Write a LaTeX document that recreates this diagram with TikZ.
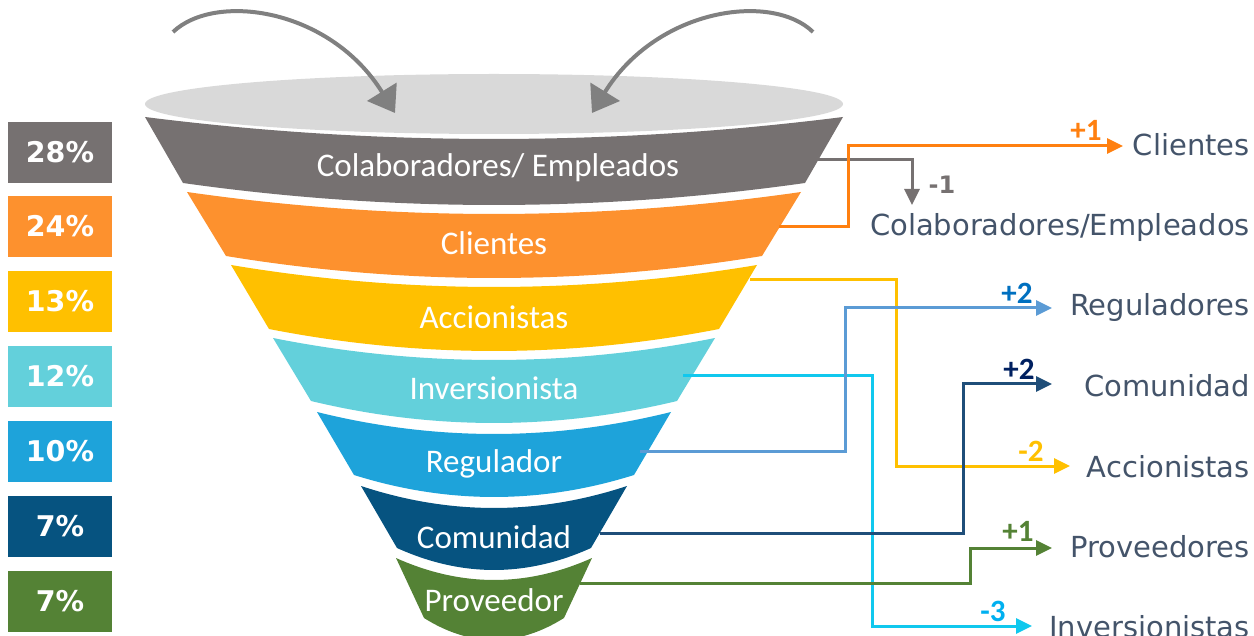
\documentclass[tikz,border=0pt]{standalone}
\usepackage{fontspec}
\setmainfont{DejaVu Sans}
\newfontfamily\bandfont{Carlito}
\usetikzlibrary{arrows.meta}
\definecolor{cgray}{HTML}{767171}
\definecolor{corange}{HTML}{FD912E}
\definecolor{cyellow}{HTML}{FFC000}
\definecolor{ccyan}{HTML}{63D0DB}
\definecolor{cblue}{HTML}{1EA3DA}
\definecolor{cnavy}{HTML}{065380}
\definecolor{cgreen}{HTML}{548235}
\definecolor{ctop}{HTML}{D9D9D9}
\definecolor{carrow}{HTML}{808080}
\definecolor{ctext}{HTML}{44546A}
\definecolor{lorange}{HTML}{FF8010}
\definecolor{lcyan}{HTML}{10C8EE}
\definecolor{lblue}{HTML}{5B9BD5}
\definecolor{lnavy}{HTML}{1F4E79}
\definecolor{dblue}{HTML}{0070C0}
\definecolor{dnavy}{HTML}{002060}
\definecolor{dcyan}{HTML}{00B0F0}

\begin{document}
\begin{tikzpicture}
[x=1pt, y=-1pt, every node/.style={inner sep=0pt},
 pct/.style={minimum width=104pt, minimum height=61pt, text=white, font=\fontsize{28.5}{32}\selectfont\bfseries},
 bandlabel/.style={text=white, font=\bandfont\fontsize{33}{38}\selectfont},
 target/.style={anchor=base east, text=ctext, font=\fontsize{29}{34}\selectfont},
 delta/.style={font=\bandfont\fontsize{31}{34}\selectfont\bfseries},
 link/.style={line width=3pt, -{Triangle[length=16pt,width=15pt]}},
 swoop/.style={line width=4pt, draw=carrow, -{Triangle[length=25pt,width=34pt]}}]
\useasboundingbox (0,0) rectangle (1254,636);

% mouth of the funnel
\fill [ctop] (494,104) ellipse [x radius=349pt, y radius=30pt];
\coordinate (inL) at (395,113);
\coordinate (inR) at (592,113);
\draw [swoop] (173,32) .. controls (215,-8) and (330,8) .. (inL);
\draw [swoop] (813,32) .. controls (772,-8) and (657,8) .. (inR);

% bands
\fill [cgray] (145,117) .. controls (377.7,146.3) and (610.3,146.3) .. (843,117) -- (805,183) .. controls (597.7,212.3) and (390.3,212.3) .. (183,183) -- cycle;
\fill [corange] (187,192) .. controls (391.7,221.3) and (596.3,221.3) .. (801,192) -- (762,256) .. controls (583.3,285.3) and (404.7,285.3) .. (226,256) -- cycle;
\fill [cyellow] (231,265) .. controls (406.3,294.3) and (581.7,294.3) .. (757,265) -- (719,329) .. controls (569,358.3) and (419,358.3) .. (269,329) -- cycle;
\fill [ccyan] (273,338) .. controls (420.3,367.3) and (567.7,367.3) .. (715,338) -- (677,401) .. controls (555,430.3) and (433,430.3) .. (311,401) -- cycle;
\fill [cblue] (317,412) .. controls (435,441.3) and (553,441.3) .. (671,412) -- (634,475) .. controls (540.7,504.3) and (447.3,504.3) .. (354,475) -- cycle;
\fill [cnavy] (361,486) .. controls (449.7,515.3) and (538.3,515.3) .. (627,486) -- (591,548) .. controls (526.3,577.3) and (461.7,577.3) .. (397,548) -- cycle;
\fill [cgreen] (396,558) .. controls (461.3,587.3) and (526.7,587.3) .. (592,558) -- (564,618) .. controls (517.3,647.3) and (470.7,647.3) .. (424,618) -- cycle;

\node (colab) [bandlabel] at (498,168) {Colaboradores/ Empleados};
\node (clientes) [bandlabel] at (494,243) {Clientes};
\node (accion) [bandlabel] at (494,317) {Accionistas};
\node (invers) [bandlabel] at (494,388) {Inversionista};
\node (regul) [bandlabel] at (494,464) {Regulador};
\node (comun) [bandlabel] at (494,537) {Comunidad};
\node (prov) [bandlabel] at (494,600) {Proveedor};

% percentages
\node (p1) [pct, fill=cgray] at (60,152.5) {28\%};
\node (p2) [pct, fill=corange] at (60,226.5) {24\%};
\node (p3) [pct, fill=cyellow] at (60,301.5) {13\%};
\node (p4) [pct, fill=ccyan] at (60,376.5) {12\%};
\node (p5) [pct, fill=cblue] at (60,451.5) {10\%};
\node (p6) [pct, fill=cnavy] at (60,526.5) {7\%};
\node (p7) [pct, fill=cgreen] at (60,601.5) {7\%};

% new order
\node (tclientes) [target] at (1250,156) {Clientes};
\node (tcolab) [target] at (1250,236) {Colaboradores/Empleados};
\node (tregul) [target] at (1250,316) {Reguladores};
\node (tcomun) [target] at (1250,397) {Comunidad};
\node (taccion) [target] at (1250,477) {Accionistas};
\node (tprov) [target] at (1250,557) {Proveedores};
\node (tinvers) [target] at (1250,637) {Inversionistas};

\coordinate (colabR) at (818,160);
\coordinate (clientesR) at (779,227);
\coordinate (accionR) at (750,280);
\coordinate (inversR) at (683,376);
\coordinate (regulR) at (640,451);
\coordinate (comunR) at (600,533);
\coordinate (provR) at (580,583);
\coordinate (colabT) at (912,205);
\coordinate (clientesT) at (1123,146);
\coordinate (accionT) at (1070,466);
\coordinate (inversT) at (1032,626);
\coordinate (regulT) at (1052,308);
\coordinate (comunT) at (1052,384);
\coordinate (provT) at (1052,548);

\draw [link, color=cgray] (colabR) -| (colabT);
\draw [link, color=lorange] (clientesR) -- ++(69,0) |- (clientesT);
\draw [link, color=cyellow] (accionR) -- ++(146,0) |- (accionT);
\draw [link, color=lcyan] (inversR) -- ++(189,0) |- (inversT);
\draw [link, color=lblue] (regulR) -- ++(205,0) |- (regulT);
\draw [link, color=lnavy] (comunR) -- ++(363,0) |- (comunT);
\draw [link, color=cgreen] (provR) -- ++(390,0) |- (provT);

\node (d1) [delta, text=lorange] at (1086,130) {+1};
\node (d2) [delta, text=cgray, font=\fontsize{24}{28}\selectfont\bfseries] at (942,185) {-1};
\node (d3) [delta, text=dblue] at (1017,293) {+2};
\node (d4) [delta, text=dnavy] at (1019,369) {+2};
\node (d5) [delta, text=cyellow] at (1031,451) {-2};
\node (d6) [delta, text=cgreen] at (1018,531) {+1};
\node (d7) [delta, text=dcyan] at (993,611) {-3};
\end{tikzpicture}
\end{document}
